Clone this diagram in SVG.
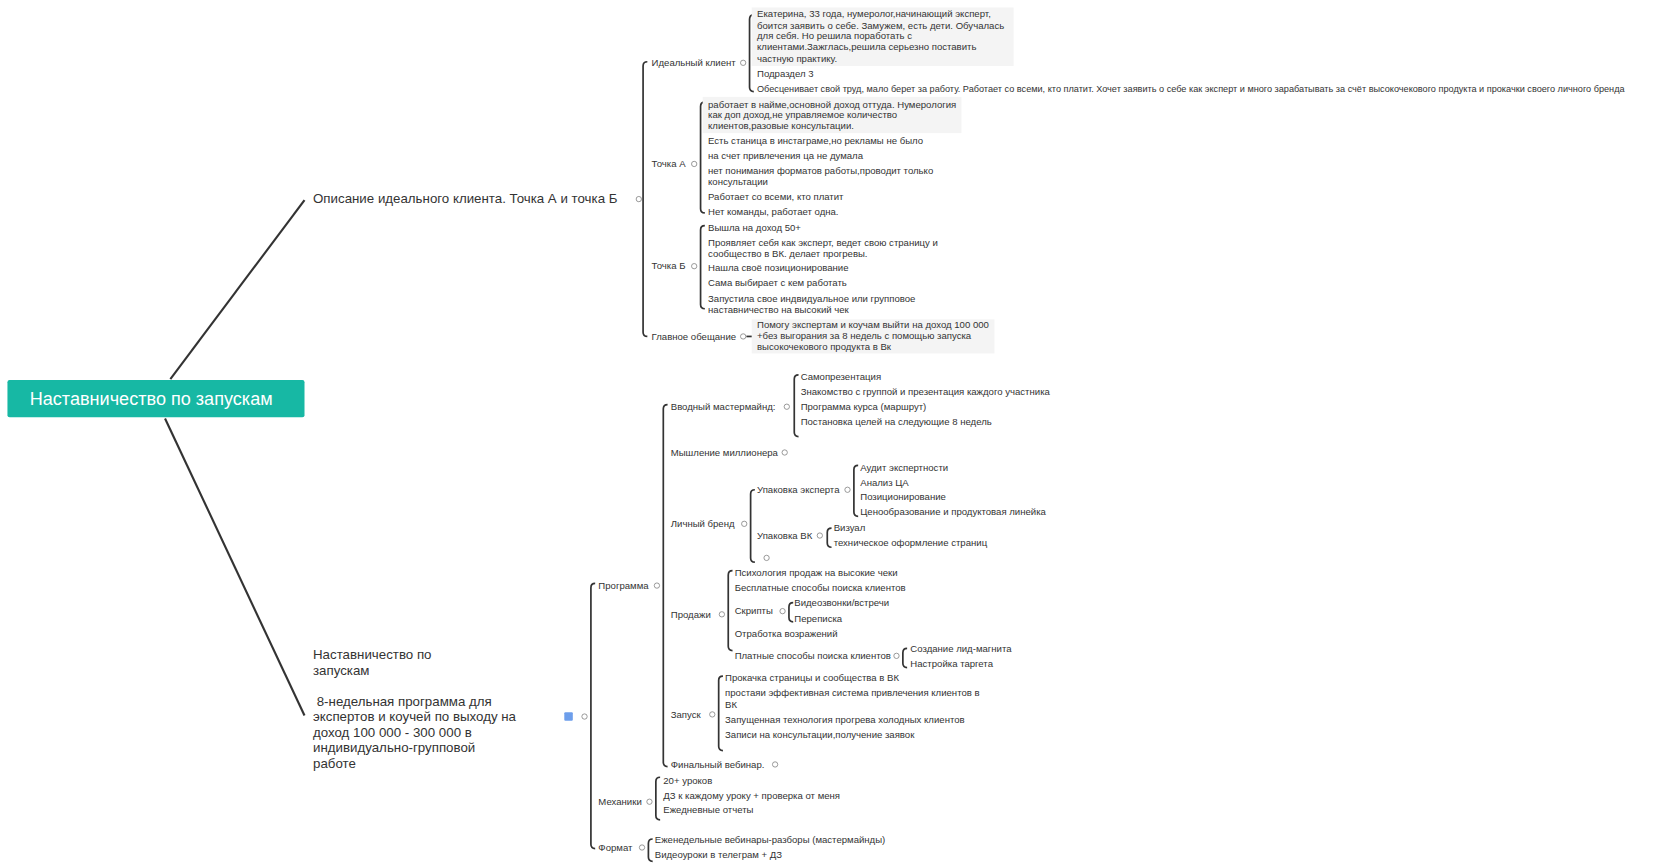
<svg xmlns="http://www.w3.org/2000/svg" width="1661" height="866" viewBox="0 0 1661 866">
<style>
text{font-family:"Liberation Sans",Arial,sans-serif;fill:#333}
.t{font-size:9px}
.b{font-size:12.5px}
.br{fill:none;stroke:#333;stroke-width:1.6}
.ln{fill:none;stroke:#333;stroke-width:2}
.c{fill:#fff;stroke:#888;stroke-width:0.8}
.bg{fill:#f4f4f4}
</style>
<rect width="1661" height="866" fill="#fff"/>
<g transform="scale(1.0647)">
<g id="connectors">
<path class="ln" d="M160 356 L286 188"/>
<path class="ln" d="M155 393 L286 672"/>
<path class="br" d="M608 58 Q604 58 604 62 V312 Q604 316 608 316"/>
<path class="br" d="M708 14 Q704 14 704 18 V82 Q704 86 708 86"/>
<path class="br" d="M662 96 Q658 96 658 100 V196 Q658 200 662 200"/>
<path class="br" d="M662 212 Q658 212 658 216 V286 Q658 290 662 290"/>
<path class="br" d="M701 316 H707"/>
<path class="br" d="M559 548 Q555 548 555 552 V793 Q555 797 559 797"/>
<path class="br" d="M627 380 Q623 380 623 384 V716 Q623 720 627 720"/>
<path class="br" d="M750 352 Q746 352 746 356 V406 Q746 410 750 410"/>
<path class="br" d="M709 460 Q705 460 705 464 V524 Q705 528 709 528"/>
<path class="br" d="M806 437 Q802 437 802 441 V481 Q802 485 806 485"/>
<path class="br" d="M781 496 Q777 496 777 500 V510 Q777 514 781 514"/>
<path class="br" d="M688 536 Q684 536 684 540 V607 Q684 611 688 611"/>
<path class="br" d="M745 566 Q741 566 741 570 V580 Q741 584 745 584"/>
<path class="br" d="M852 609 Q848 609 848 613 V623 Q848 627 852 627"/>
<path class="br" d="M679 635 Q675 635 675 639 V701 Q675 705 679 705"/>
<path class="br" d="M620 730 Q616 730 616 734 V766 Q616 770 620 770"/>
<path class="br" d="M613 788 Q609 788 609 792 V805 Q609 809 613 809"/>
</g>
<g id="root">
<rect x="7" y="357" width="279" height="35" rx="2" fill="#17b8a4"/>
<text x="142" y="380" text-anchor="middle" style="font-size:17px;fill:#fff">Наставничество по запускам</text>
</g>
<g id="branch1">
<text class="b" x="294" y="191">Описание идеального клиента. Точка А и точка Б</text>
<circle class="c" cx="600" cy="187" r="2.5"/>
</g>
<g id="ideal">
<text class="t" x="612" y="62">Идеальный клиент</text><circle class="c" cx="698" cy="59" r="2.5"/>
<rect class="bg" x="706" y="7" width="246" height="55"/>
<text class="t" x="711" y="16">Екатерина, 33 года, нумеролог,начинающий эксперт,</text>
<text class="t" x="711" y="27">боится заявить о себе. Замужем, есть дети.  Обучалась</text>
<text class="t" x="711" y="37">для себя. Но решила поработать с</text>
<text class="t" x="711" y="47">клиентами.Зажглась,решила серьезно поставить</text>
<text class="t" x="711" y="58">частную практику.</text>
<text class="t" x="711" y="72">Подраздел 3</text>
<text x="711" y="86" style="font-size:8.6px">Обесценивает свой труд, мало берет за работу. Работает со всеми, кто платит. Хочет заявить о себе как эксперт и много зарабатывать за счёт высокочекового продукта и прокачки своего личного бренда</text>
</g>
<g id="pointA">
<text class="t" x="612" y="157">Точка А</text><circle class="c" cx="652" cy="154" r="2.5"/>
<rect class="bg" x="660" y="91" width="243" height="34"/>
<text class="t" x="665" y="101">работает в найме,основной доход оттуда. Нумерология</text>
<text class="t" x="665" y="111">как доп доход,не управляемое количество</text>
<text class="t" x="665" y="121">клиентов,разовые консультации.</text>
<text class="t" x="665" y="135">Есть станица в инстаграме,но рекламы не было</text>
<text class="t" x="665" y="149">на счет привлечения ца не думала</text>
<text class="t" x="665" y="163">нет понимания форматов работы,проводит только</text>
<text class="t" x="665" y="174">консультации</text>
<text class="t" x="665" y="188">Работает со всеми, кто платит</text>
<text class="t" x="665" y="202">Нет команды, работает одна.</text>
</g>
<g id="pointB">
<text class="t" x="612" y="253">Точка Б</text><circle class="c" cx="652" cy="250" r="2.5"/>
<text class="t" x="665" y="217">Вышла на доход 50+</text>
<text class="t" x="665" y="231">Проявляет себя как эксперт, ведет свою страницу и</text>
<text class="t" x="665" y="241">сообщество в ВК. делает прогревы.</text>
<text class="t" x="665" y="255">Нашла своё позиционирование</text>
<text class="t" x="665" y="269">Сама выбирает с кем работать</text>
<text class="t" x="665" y="284">Запустила свое индвидуальное или групповое</text>
<text class="t" x="665" y="294">наставничество на высокий чек</text>
</g>
<g id="promise">
<text class="t" x="612" y="319">Главное обещание</text><circle class="c" cx="698" cy="316" r="2.5"/>
<rect class="bg" x="706" y="300" width="228" height="32"/>
<text class="t" x="711" y="308">Помогу экспертам и коучам выйти на доход 100 000</text>
<text class="t" x="711" y="318">+без выгорания за 8 недель с помощью запуска</text>
<text class="t" x="711" y="329">высокочекового продукта в Вк</text>
</g>
<g id="branch2">
<text class="b" x="294" y="619">Наставничество по</text>
<text class="b" x="294" y="634">запускам</text>
<text class="b" x="294" y="663" xml:space="preserve"> 8-недельная программа для</text>
<text class="b" x="294" y="677">экспертов и коучей по выходу на</text>
<text class="b" x="294" y="692">доход 100 000 - 300 000 в</text>
<text class="b" x="294" y="706">индивидуально-групповой</text>
<text class="b" x="294" y="721">работе</text>
<rect x="530" y="669" width="8" height="8" rx="1" fill="#6d9eeb"/>
<circle class="c" cx="549" cy="673" r="2.5"/>
</g>
<g id="program">
<text class="t" x="562" y="553">Программа</text><circle class="c" cx="617" cy="550" r="2.5"/>
<text class="t" x="630" y="385">Вводный мастермайнд:</text><circle class="c" cx="739" cy="382" r="2.5"/>
<text class="t" x="752" y="357">Самопрезентация</text>
<text class="t" x="752" y="371">Знакомство с группой и презентация каждого участника</text>
<text class="t" x="752" y="385">Программа курса (маршрут)</text>
<text class="t" x="752" y="399">Постановка целей на следующие 8 недель</text>
<text class="t" x="630" y="428">Мышление миллионера</text><circle class="c" cx="737" cy="425" r="2.5"/>
<text class="t" x="630" y="495">Личный бренд</text><circle class="c" cx="699" cy="492" r="2.5"/>
<text class="t" x="711" y="463">Упаковка эксперта</text><circle class="c" cx="796" cy="460" r="2.5"/>
<text class="t" x="808" y="442">Аудит экспертности</text>
<text class="t" x="808" y="456">Анализ ЦА</text>
<text class="t" x="808" y="470">Позиционирование</text>
<text class="t" x="808" y="484">Ценообразование и продуктовая линейка</text>
<text class="t" x="711" y="506">Упаковка ВК</text><circle class="c" cx="770" cy="503" r="2.5"/>
<text class="t" x="783" y="499">Визуал</text>
<text class="t" x="783" y="513">техническое оформление страниц</text>
<circle class="c" cx="720" cy="524" r="2.5"/>
<text class="t" x="630" y="580">Продажи</text><circle class="c" cx="678" cy="577" r="2.5"/>
<text class="t" x="690" y="541">Психология продаж на высокие чеки</text>
<text class="t" x="690" y="555">Бесплатные способы поиска клиентов</text>
<text class="t" x="690" y="577">Скрипты</text><circle class="c" cx="735" cy="574" r="2.5"/>
<text class="t" x="746" y="569">Видеозвонки/встречи</text>
<text class="t" x="746" y="584">Переписка</text>
<text class="t" x="690" y="598">Отработка возражений</text>
<text class="t" x="690" y="619">Платные способы поиска клиентов</text><circle class="c" cx="842" cy="616" r="2.5"/>
<text class="t" x="855" y="612">Создание лид-магнита</text>
<text class="t" x="855" y="626">Настройка таргета</text>
<text class="t" x="630" y="674">Запуск</text><circle class="c" cx="669" cy="671" r="2.5"/>
<text class="t" x="681" y="640">Прокачка страницы и сообщества в ВК</text>
<text class="t" x="681" y="654">простаяи эффективная система привлечения клиентов в</text>
<text class="t" x="681" y="665">ВК</text>
<text class="t" x="681" y="679">Запущенная технология прогрева холодных клиентов</text>
<text class="t" x="681" y="693">Записи на консультации,получение заявок</text>
<text class="t" x="630" y="721">Финальный вебинар.</text><circle class="c" cx="728" cy="718" r="2.5"/>
</g>
<g id="mechanics">
<text class="t" x="562" y="756">Механики</text><circle class="c" cx="610" cy="753" r="2.5"/>
<text class="t" x="623" y="736">20+ уроков</text>
<text class="t" x="623" y="750">ДЗ к каждому уроку + проверка от меня</text>
<text class="t" x="623" y="764">Ежедневные отчеты</text>
</g>
<g id="format">
<text class="t" x="562" y="799">Формат</text><circle class="c" cx="603" cy="796" r="2.5"/>
<text class="t" x="615" y="792">Еженедельные вебинары-разборы (мастермайнды)</text>
<text class="t" x="615" y="806">Видеоуроки в телеграм + ДЗ</text>
</g>
</g>
</svg>
